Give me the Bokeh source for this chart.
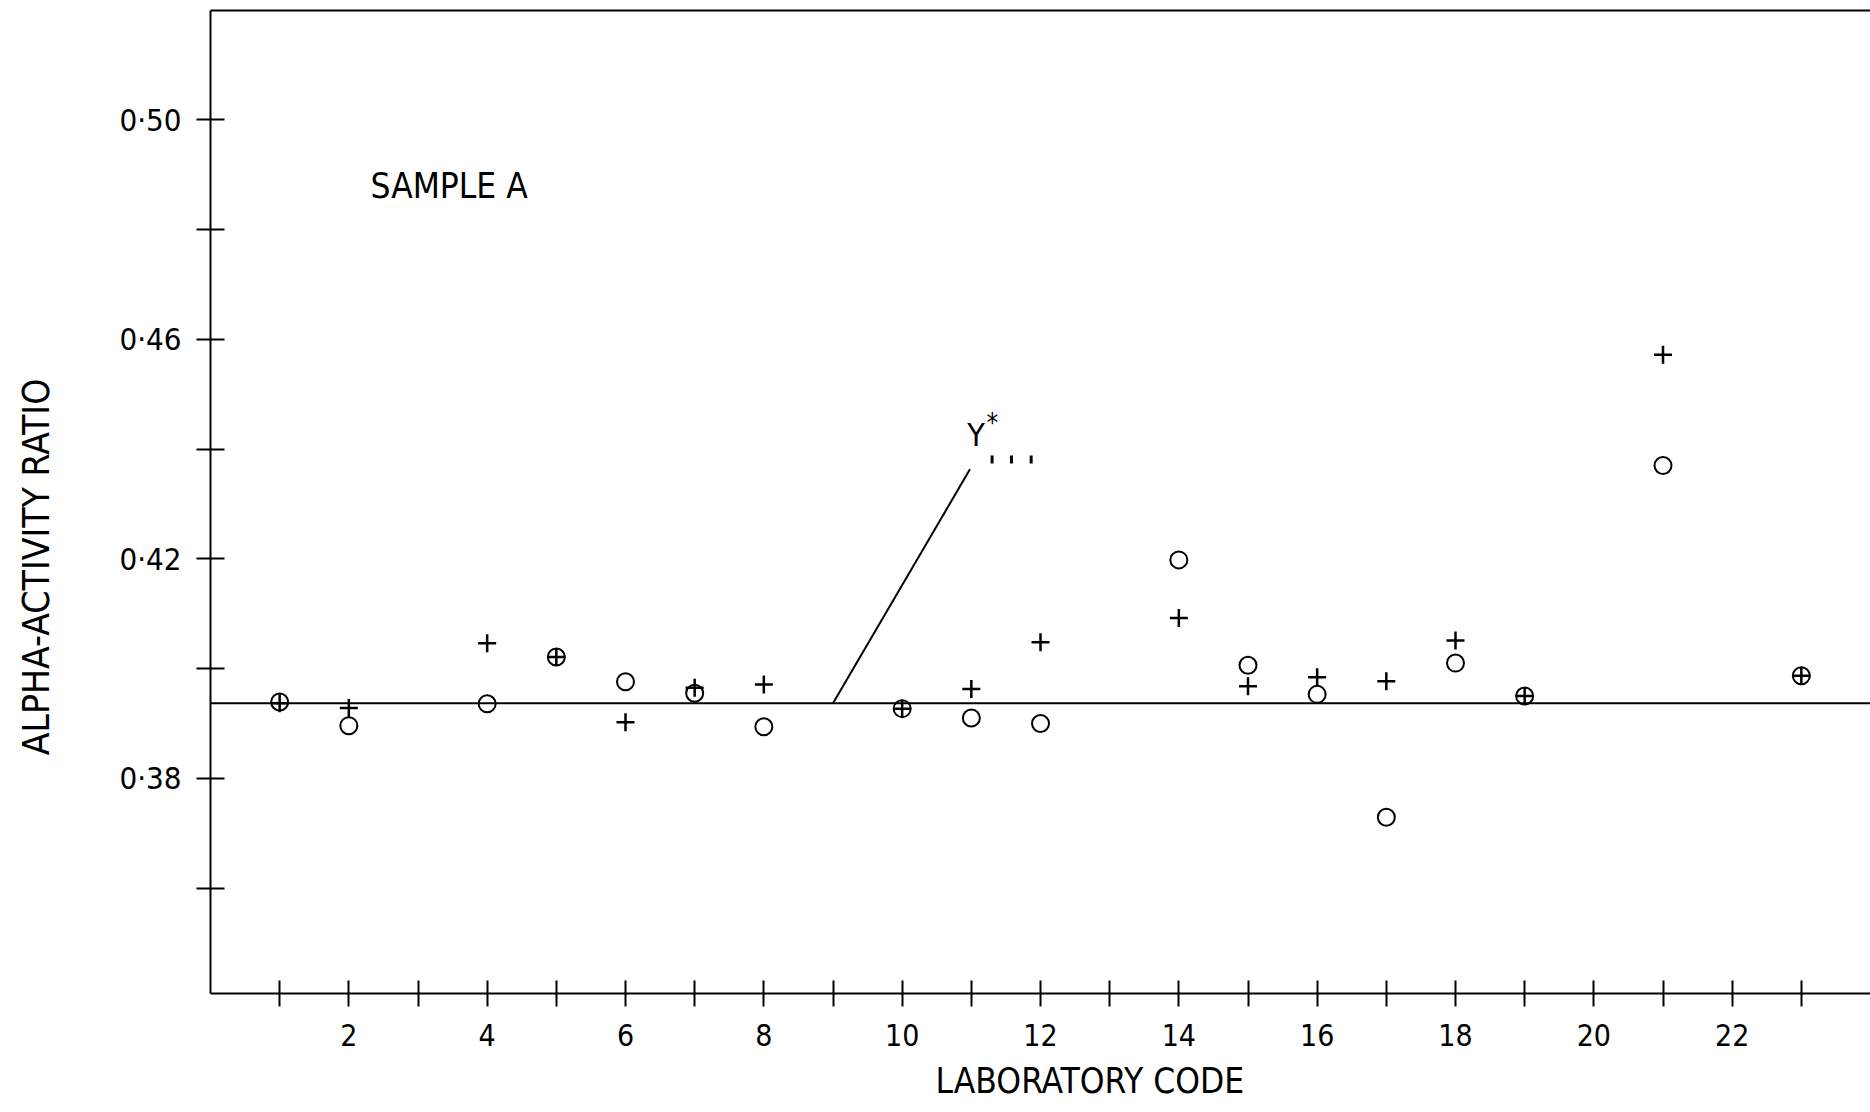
import math
from bokeh.plotting import figure
from bokeh.layouts import row
from bokeh.models import Range1d, FixedTicker, LinearAxis, Label, Span, ColumnDataSource, Title
from bokeh.embed import file_html
from bokeh.resources import INLINE

# ---------------- data ----------------
labs = [1, 2, 4, 5, 6, 7, 8, 10, 11, 12, 14, 15, 16, 17, 18, 19, 21, 23]
plus_values = [0.3937, 0.3928, 0.4046, 0.4021, 0.3902, 0.3965, 0.3971, 0.3927, 0.3963,
               0.4048, 0.4092, 0.3968, 0.3984, 0.3977, 0.4051, 0.3950, 0.4572, 0.3987]
circle_values = [0.3939, 0.3896, 0.3936, 0.4021, 0.3976, 0.3955, 0.3894, 0.3927, 0.3910,
                 0.3900, 0.4198, 0.4006, 0.3953, 0.3729, 0.4010, 0.3950, 0.4370, 0.3987]
y_star = 0.3937

x_ticks = list(range(1, 24))
x_tick_labels = {t: (str(t) if t % 2 == 0 else "") for t in x_ticks}
y_ticks = [0.36, 0.38, 0.40, 0.42, 0.44, 0.46, 0.48, 0.50]
y_tick_labels = {0.36: "", 0.38: "0·38", 0.40: "", 0.42: "0·42",
                 0.44: "", 0.46: "0·46", 0.48: "", 0.50: "0·50"}

pointer_x = [9, 10.98]
pointer_y = [y_star, 0.4363]
dash_marks_x = [11.30, 11.58, 11.865]
dash_marks_y = [0.4381, 0.4381, 0.4381]

FONT = "'DejaVu Sans Condensed', 'Liberation Sans', sans-serif"

# ---------------- left strip holding the y-axis title ----------------
left = figure(width=60, height=1112, x_range=Range1d(0, 1), y_range=Range1d(0, 1),
              output_backend="svg", toolbar_location=None,
              x_axis_location=None, y_axis_location=None, min_border=0)
left.grid.visible = False
left.outline_line_color = None
left.background_fill_color = "white"
left.border_fill_color = "white"
left.add_layout(Label(x=36, y=426.5, x_units="screen", y_units="screen",
                      text="ALPHA-ACTIVITY RATIO", angle=math.pi / 2,
                      text_align="center", text_baseline="middle",
                      text_font=FONT, text_font_size="37px", text_color="black"))

# ---------------- main figure ----------------
p = figure(width=1810, height=1112,
           x_range=Range1d(0, 24), y_range=Range1d(0.3408, 0.5199),
           output_backend="svg", toolbar_location=None,
           min_border_left=150, min_border_right=0, min_border_top=10, min_border_bottom=119)
p.grid.visible = False
p.outline_line_color = None
p.background_fill_color = "white"
p.border_fill_color = "white"

xa = p.xaxis[0]
xa.ticker = FixedTicker(ticks=x_ticks, minor_ticks=[])
xa.major_label_overrides = x_tick_labels
xa.major_tick_in = 13
xa.major_tick_out = 13
xa.minor_tick_in = 0
xa.minor_tick_out = 0
xa.axis_line_width = 2
xa.major_tick_line_width = 2
xa.major_label_standoff = 17
xa.major_label_text_font = FONT
xa.major_label_text_font_size = "30px"
xa.major_label_text_color = "black"
xa.axis_line_color = "black"
xa.major_tick_line_color = "black"

ya = p.yaxis[0]
ya.ticker = FixedTicker(ticks=y_ticks, minor_ticks=[])
ya.major_label_overrides = y_tick_labels
ya.major_tick_in = 14
ya.major_tick_out = 14
ya.minor_tick_in = 0
ya.minor_tick_out = 0
ya.axis_line_width = 2
ya.major_tick_line_width = 2
ya.major_label_standoff = 15
ya.major_label_text_font = FONT
ya.major_label_text_font_size = "31px"
ya.major_label_text_color = "black"
ya.axis_line_color = "black"
ya.major_tick_line_color = "black"

top = LinearAxis(ticker=FixedTicker(ticks=[], minor_ticks=[]),
                 major_tick_in=0, major_tick_out=0, minor_tick_in=0, minor_tick_out=0,
                 major_label_standoff=0, axis_line_width=2, axis_line_color="black")
p.add_layout(top, "above")

# x-axis title (slightly right of centre, as in the original)
p.add_layout(Title(text="LABORATORY CODE", align="left", offset=725, standoff=20,
                   text_font=FONT, text_font_size="35px", text_font_style="normal",
                   text_color="black"), "below")

# mean line and markers
p.add_layout(Span(location=y_star, dimension="width", line_color="black", line_width=2))

src = ColumnDataSource(dict(lab=labs, plus=plus_values, circ=circle_values))
p.scatter("lab", "circ", source=src, marker="circle", size=17,
          fill_color=None, line_color="black", line_width=2)
p.scatter("lab", "plus", source=src, marker="cross", size=18,
          line_color="black", line_width=2.5)

# Y* pointer
p.line(pointer_x, pointer_y, line_color="black", line_width=2)
p.rect(x=dash_marks_x, y=dash_marks_y, width=3, height=8,
       width_units="screen", height_units="screen", fill_color="black", line_color=None)
p.add_layout(Label(x=10.94, y=0.4425, text="Y", text_font=FONT, text_font_size="32px",
                   text_align="left", text_baseline="middle", text_color="black"))
p.add_layout(Label(x=11.22, y=0.4447, text="*", text_font=FONT, text_font_size="26px",
                   text_align="left", text_baseline="middle", text_color="black"))

# sample name
p.add_layout(Label(x=2.313, y=0.4880, text="SAMPLE A", text_font=FONT, text_font_size="35px",
                   text_align="left", text_baseline="middle", text_color="black"))

layout = row(left, p)
open("out.html", "w").write(file_html(layout, INLINE))
